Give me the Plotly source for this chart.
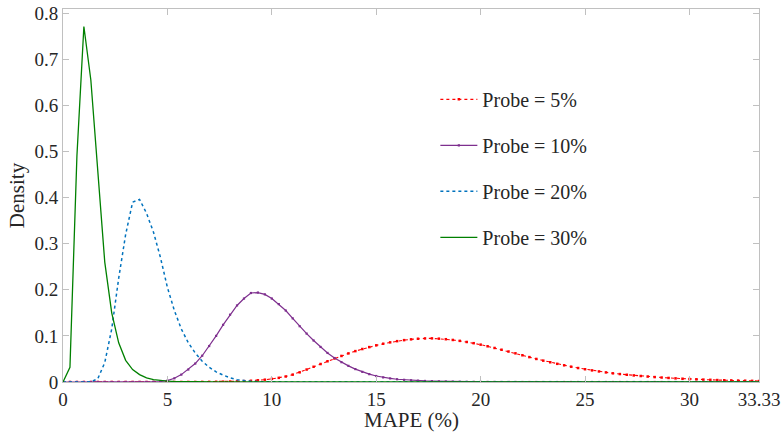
import plotly.graph_objects as go

# x grid: steps of 1/3 from 0 to 33.33
x = [round(i / 3, 4) for i in range(101)]

probe5 = [0]*18 + [0.0001, 0.0001, 0.0002, 0.0003, 0.0005, 0.0007,
    0.001, 0.0014, 0.002, 0.0027, 0.0037, 0.005, 0.0068, 0.009, 0.012,
    0.016, 0.021, 0.027, 0.033, 0.039, 0.045, 0.051, 0.0565, 0.062,
    0.067, 0.0715, 0.0757, 0.0795, 0.083, 0.086, 0.0886, 0.0908, 0.0925,
    0.0938, 0.0945, 0.0946, 0.094, 0.0928, 0.0912, 0.0892, 0.0868, 0.0842,
    0.081, 0.0775, 0.0738, 0.07, 0.0661, 0.0622, 0.058, 0.054, 0.050,
    0.0463, 0.0428, 0.0394, 0.0362, 0.0332, 0.0303, 0.0277, 0.0252, 0.0229,
    0.0208, 0.0188, 0.0172, 0.0157, 0.0143, 0.013, 0.0118, 0.0107, 0.0097,
    0.0088, 0.0079, 0.0071, 0.0064, 0.0058, 0.0052, 0.0047, 0.0042, 0.0038,
    0.0034, 0.0031, 0.0028, 0.0025, 0.0022]

probe10 = [0]*13 + [0.0003, 0.001, 0.003, 0.008, 0.016, 0.027, 0.04, 0.057,
    0.078, 0.1, 0.124, 0.146, 0.166, 0.181, 0.193, 0.194, 0.19, 0.181,
    0.169, 0.155, 0.138, 0.121, 0.105, 0.09, 0.076, 0.063, 0.052, 0.043,
    0.035, 0.028, 0.022, 0.017, 0.013, 0.01, 0.0078, 0.006, 0.0047, 0.0037,
    0.0029, 0.0023, 0.0018, 0.0014, 0.0011, 0.0009, 0.0007, 0.0005, 0.0004,
    0.0003, 0.0002, 0.0002, 0.0001, 0.0001, 0.0001] + [0]*35

probe20 = [0]*4 + [0.0003, 0.007, 0.042, 0.115, 0.225, 0.32, 0.39, 0.396,
    0.366, 0.325, 0.27, 0.205, 0.155, 0.115, 0.085, 0.063, 0.045, 0.032,
    0.022, 0.015, 0.009, 0.005, 0.003, 0.0015, 0.0008, 0.0004, 0.0002] + [0]*70

probe30 = [0, 0.032, 0.49, 0.771, 0.655, 0.45, 0.26, 0.15, 0.085, 0.047,
    0.027, 0.016, 0.009, 0.005, 0.003, 0.0018, 0.0011, 0.0007, 0.0004,
    0.0003, 0.0002] + [0]*80

names = ["Probe = 5%", "Probe = 10%", "Probe = 20%", "Probe = 30%"]
xticks = [0, 5, 10, 15, 20, 25, 30, 33.33]
xticklabels = ["0", "5", "10", "15", "20", "25", "30", "33.33"]
yticks = [0, 0.1, 0.2, 0.3, 0.4, 0.5, 0.6, 0.7, 0.8]
yticklabels = ["0", "0.1", "0.2", "0.3", "0.4", "0.5", "0.6", "0.7", "0.8"]
xtitle = "MAPE (%)"
ytitle = "Density"

FONT = "Liberation Serif, Times New Roman, serif"
TXT = "#262626"
fig = go.Figure()
fig.add_trace(go.Scatter(x=x, y=probe5, name=names[0], mode="lines+markers",
    line=dict(color="#ff0000", width=1.1, dash="dot"),
    marker=dict(color="#ff0000", size=2.5, symbol="square"), legendgroup="a"))
fig.add_trace(go.Scatter(x=x, y=probe10, name=names[1], mode="lines+markers",
    line=dict(color="#7e2f8e", width=1.2),
    marker=dict(color="#7e2f8e", size=2.2, symbol="square"), legendgroup="b"))
fig.add_trace(go.Scatter(x=x, y=probe20, name=names[2], mode="lines",
    line=dict(color="#0072bd", width=1.5, dash="dot"), legendgroup="c"))
fig.add_trace(go.Scatter(x=x, y=probe30, name=names[3], mode="lines",
    line=dict(color="#008000", width=1.3), legendgroup="d"))

axis_common = dict(showline=True, linecolor="#c0c0c0", linewidth=1, mirror="ticks",
    ticks="inside", ticklen=6, tickcolor="#c0c0c0", showgrid=False, zeroline=False,
    automargin=False, tickfont=dict(family=FONT, size=19, color=TXT))

fig.update_xaxes(range=[0, 33.33], tickvals=xticks, ticktext=xticklabels, **axis_common)
fig.update_yaxes(range=[0, 0.809], tickvals=yticks, ticktext=yticklabels,
    title=dict(text=ytitle, font=dict(family=FONT, size=21, color=TXT), standoff=4),
    **axis_common)

fig.add_annotation(text=xtitle, xref="paper", yref="paper", x=0.5, y=0,
    xanchor="center", yanchor="top", yshift=-24, showarrow=False,
    font=dict(family=FONT, size=21, color=TXT))

fig.update_layout(
    width=783, height=438,
    margin=dict(l=63, r=24, t=9, b=56),
    plot_bgcolor="white", paper_bgcolor="white",
    font=dict(family=FONT, size=20, color=TXT),
    legend=dict(x=0.535, y=0.81, xanchor="left", yanchor="top",
        bgcolor="rgba(0,0,0,0)", borderwidth=0, tracegroupgap=17,
        itemwidth=37, font=dict(family=FONT, size=20, color=TXT)),
)
fig.write_html("out.html", config={"displayModeBar": False},
    post_script="document.body.style.margin='0px';")
